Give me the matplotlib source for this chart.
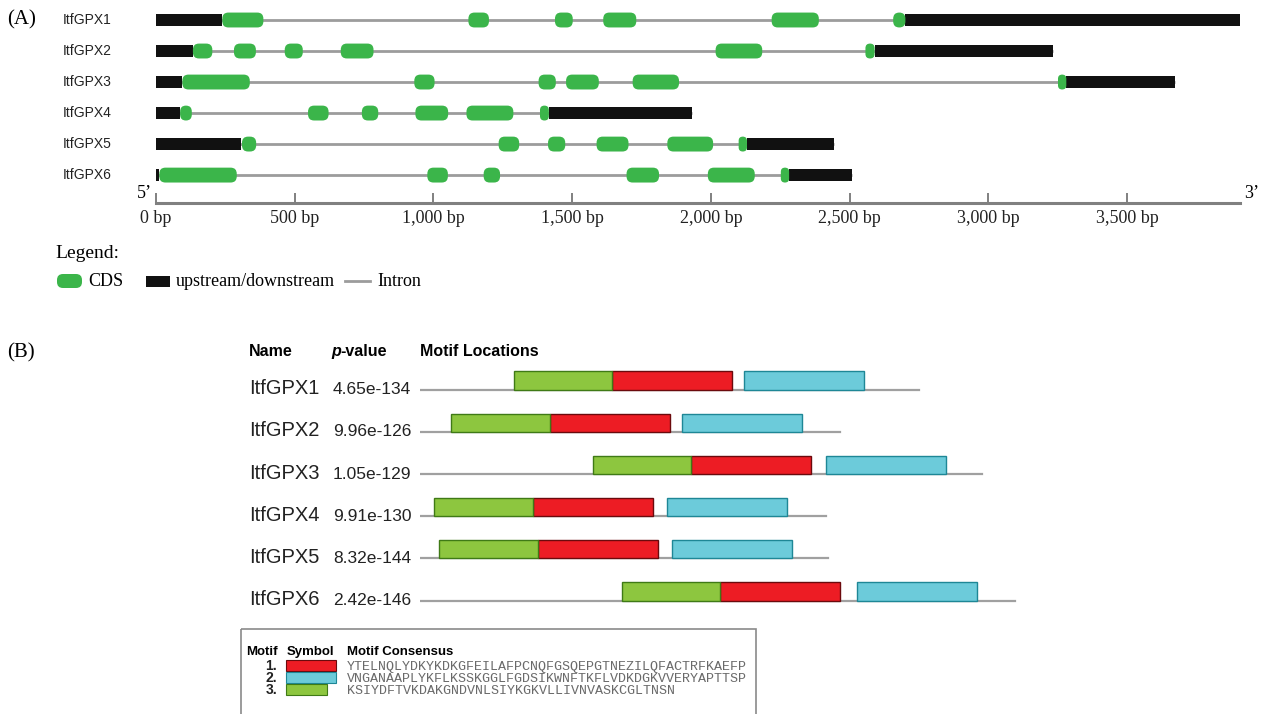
import matplotlib
matplotlib.use('Agg')
import matplotlib.pyplot as plt
from matplotlib.patches import FancyBboxPatch, Rectangle
from matplotlib import transforms
from matplotlib import font_manager as fm
from matplotlib.ticker import FuncFormatter

# ---- panel A: gene structures (bp) ----
gene_names = ['ItfGPX1', 'ItfGPX2', 'ItfGPX3', 'ItfGPX4', 'ItfGPX5', 'ItfGPX6']
utr5 = [(0, 239), (0, 133), (0, 95), (0, 85), (0, 308), (0, 12)]
utr3 = [(2701, 3907), (2590, 3233), (3281, 3672), (1416, 1932), (2130, 2444), (2282, 2509)]
cds = [
    [(239, 387), (1126, 1200), (1438, 1502), (1612, 1731), (2219, 2389), (2657, 2701)],
    [(133, 203), (281, 360), (464, 529), (666, 784), (2017, 2185), (2557, 2590)],
    [(95, 338), (931, 1004), (1379, 1441), (1478, 1596), (1718, 1885), (3251, 3281)],
    [(87, 129), (548, 622), (742, 801), (935, 1053), (1119, 1288), (1384, 1416)],
    [(310, 361), (1235, 1309), (1413, 1475), (1588, 1703), (1843, 2008), (2100, 2130)],
    [(12, 291), (978, 1052), (1181, 1240), (1696, 1813), (1989, 2158), (2252, 2282)],
]
bp_ticks = [0, 500, 1000, 1500, 2000, 2500, 3000, 3500]
bp_max = 3907

# ---- panel B: MEME motifs (aa) ----
p_values = ['4.65e-134', '9.96e-126', '1.05e-129', '9.91e-130', '8.32e-144', '2.42e-146']
protein_len = [208, 175, 234, 169, 170, 248]
motif1_start = [80, 54, 113, 47, 49, 125]     # red
motif2_start = [135, 109, 169, 103, 105, 182]  # cyan
motif3_start = [39, 13, 72, 6, 8, 84]         # green
motif_len = [50, 50, 41]
motif_consensus = ['YTELNQLYDKYKDKGFEILAFPCNQFGSQEPGTNEZILQFACTRFKAEFP',
                   'VNGANAAPLYKFLKSSKGGLFGDSIKWNFTKFLVDKDGKVVERYAPTTSP',
                   'KSIYDFTVKDAKGNDVNLSIYKGKVLLIVNVASKCGLTNSN']
motif_fc = ['#ED1C24', '#6CCBDA', '#8DC63F']
motif_ec = ['#6b0a0d', '#1e8796', '#3f7a16']

GREEN = '#3BB54A'
W, H = 1267, 714

installed = {f.name for f in fm.fontManager.ttflist}
narrow = 'Liberation Sans Narrow' if 'Liberation Sans Narrow' in installed else 'Liberation Sans'
SANS = 'Liberation Sans'
plt.rcParams['font.family'] = 'Liberation Serif'

fig = plt.figure(figsize=(W / 100, H / 100), dpi=100)


def px_axes(x0, y0, x1, y1):
    return fig.add_axes([x0 / W, 1 - y1 / H, (x1 - x0) / W, (y1 - y0) / H])


# overlay in figure pixels for labels / legends
ov = px_axes(0, 0, W, H)
ov.set_xlim(0, W)
ov.set_ylim(H, 0)
ov.axis('off')

# ---------------- panel A ----------------
axA = px_axes(156, 1.4, 1240, 203)
axA.set_xlim(0, bp_max)
axA.set_ylim(5.9, -0.6)
axA.patch.set_alpha(0)
for s in ['top', 'left', 'right']:
    axA.spines[s].set_visible(False)
axA.spines['bottom'].set_color('#808080')
axA.spines['bottom'].set_linewidth(2.2)
axA.set_yticks([])
axA.set_xticks(bp_ticks)
axA.xaxis.set_major_formatter(FuncFormatter(lambda v, p: f'{v:,.0f} bp'))
axA.tick_params(axis='x', direction='in', length=7, width=1.4, color='#808080',
                pad=5, labelsize=13, labelcolor='#222222')

# aspect so rounded corners look round in pixels
bbox = axA.get_position()
px_per_x = bbox.width * W / bp_max
px_per_y = bbox.height * H / 6.5
asp = (1 / px_per_y) / (1 / px_per_x)

blendA = transforms.blended_transform_factory(fig.transFigure, axA.transData)
cds_h, utr_h = 0.48, 0.37
for i, name in enumerate(gene_names):
    axA.plot([utr5[i][0], utr3[i][1]], [i, i], color='#9c9c9c', lw=2, zorder=1,
             solid_capstyle='butt')
    for (s, e) in (utr5[i], utr3[i]):
        axA.add_patch(Rectangle((s, i - utr_h / 2), e - s, utr_h, fc='#111111',
                                ec='none', zorder=2))
    for (s, e) in cds[i]:
        r = min(22, (e - s) / 2, cds_h / asp / 2)
        axA.add_patch(FancyBboxPatch((s, i - cds_h / 2), e - s, cds_h,
                                     boxstyle=f'round,pad=0,rounding_size={r}',
                                     mutation_aspect=asp, fc=GREEN, ec='none', zorder=3))
    axA.text(63 / W, i, name, transform=blendA, ha='left', va='center',
             fontsize=10, family=narrow, color='#222222')

axA.annotate('5\u2019', xy=(0, 0), xycoords='axes fraction', xytext=(-3, 1),
             textcoords='offset points', ha='right', va='bottom', fontsize=13)
axA.annotate('3\u2019', xy=(1, 0), xycoords='axes fraction', xytext=(3, 1),
             textcoords='offset points', ha='left', va='bottom', fontsize=13)

ov.text(7, 20, '(A)', fontsize=15, va='center', ha='left')
ov.text(7, 353, '(B)', fontsize=15, va='center', ha='left')

# legend of panel A
ov.text(55, 254, 'Legend:', fontsize=14, va='center', ha='left')
ov.add_patch(FancyBboxPatch((57, 274), 25, 14, boxstyle='round,pad=0,rounding_size=6',
                            fc=GREEN, ec='none'))
ov.text(88, 281, 'CDS', fontsize=13, va='center', ha='left')
ov.add_patch(Rectangle((146, 276), 24, 11, fc='#111111', ec='none'))
ov.text(176, 281, 'upstream/downstream', fontsize=13, va='center', ha='left')
ov.plot([345, 370], [281, 281], color='#9c9c9c', lw=2)
ov.text(377, 281, 'Intron', fontsize=13, va='center', ha='left')

# ---------------- panel B ----------------
row_px, row0 = 42.2, 389.5
aa_px = 2.4
axB = px_axes(420, 360, 1050, 615)
axB.set_xlim(0, (1050 - 420) / aa_px)
axB.set_ylim((615 - row0) / row_px, (360 - row0) / row_px)
axB.axis('off')
axB.patch.set_alpha(0)

blendB = transforms.blended_transform_factory(fig.transFigure, axB.transData)
bar_h = 0.43
for i, name in enumerate(gene_names):
    axB.plot([0, protein_len[i]], [i, i], color='#a0a0a0', lw=1.6, zorder=1)
    for k, starts in enumerate([motif1_start, motif2_start, motif3_start]):
        axB.add_patch(Rectangle((starts[i], i - bar_h), motif_len[k], bar_h,
                                fc=motif_fc[k], ec=motif_ec[k], lw=1, zorder=2))
    axB.text(249 / W, i + 0.11, name, transform=blendB, ha='left', va='baseline',
             fontsize=14.5, family=SANS, color='#222222')
    axB.text(333 / W, i + 0.11, p_values[i], transform=blendB, ha='left',
             va='baseline', fontsize=12.5, family=SANS, color='#222222')

ov.text(249, 356, 'Name', fontsize=11.5, weight='bold', family=SANS, va='baseline')
ov.text(331, 356, 'p', fontsize=11.5, weight='bold', style='italic', family=SANS,
        va='baseline')
ov.text(340, 356, '-value', fontsize=11.5, weight='bold', family=SANS, va='baseline')
ov.text(420, 356, 'Motif Locations', fontsize=11.5, weight='bold', family=SANS,
        va='baseline')

# motif legend box
ov.add_patch(Rectangle((241, 629), 515, 120, fc='none', ec='#8a8a8a', lw=1.2))
ov.text(246, 655, 'Motif', fontsize=9.5, weight='bold', family=SANS, va='baseline')
ov.text(287, 655, 'Symbol', fontsize=9.5, weight='bold', family=SANS, va='baseline')
ov.text(347, 655, 'Motif Consensus', fontsize=9.5, weight='bold', family=SANS,
        va='baseline')
for k in range(3):
    yb = 670 + 12 * k
    ov.text(277, yb, f'{k + 1}.', fontsize=10, weight='bold', family=SANS,
            ha='right', va='baseline', color='#222222')
    ov.add_patch(Rectangle((286, yb - 10), motif_len[k], 11, fc=motif_fc[k],
                           ec=motif_ec[k], lw=0.8))
    ov.text(347, yb, motif_consensus[k], fontsize=9.6, family='Liberation Mono',
            va='baseline', color='#6a6a6a')

fig.savefig('out.png', dpi=100)
